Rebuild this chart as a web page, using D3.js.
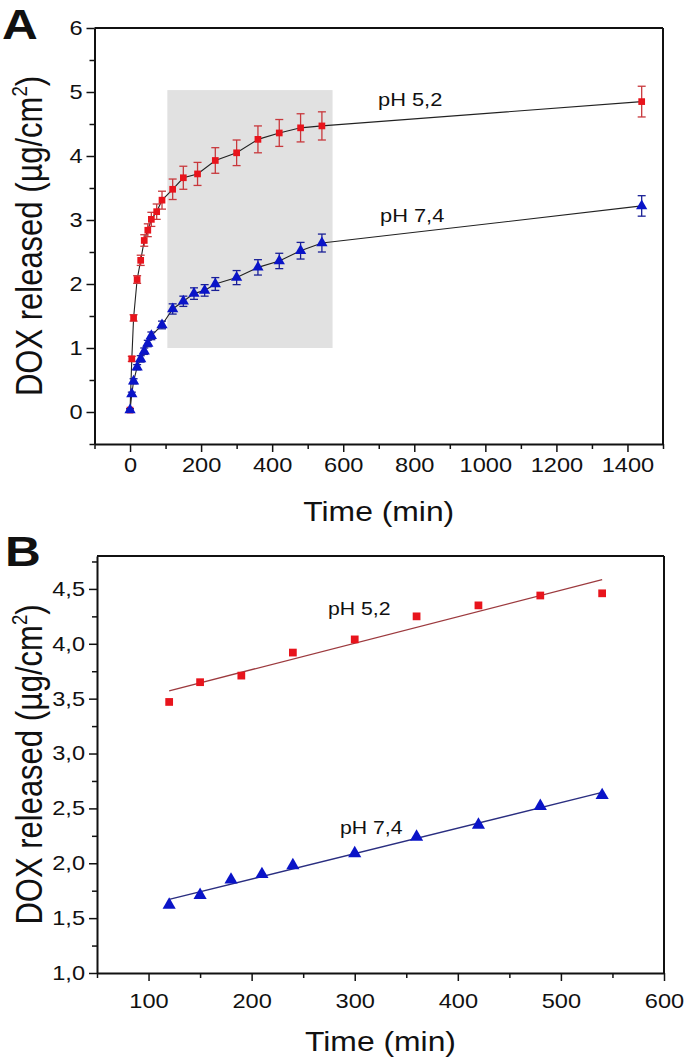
<!DOCTYPE html>
<html>
<head>
<meta charset="utf-8">
<script src="https://cdn.jsdelivr.net/npm/d3@7/dist/d3.min.js"></script>
<style>
  html, body { margin: 0; padding: 0; background: #fff; }
  svg { display: block; }
  text { font-family: "Liberation Sans", Arial, sans-serif; fill: #111; }
</style>
</head>
<body>
<svg id="chart" width="685" height="1061"></svg>
<script>
// ---------------- DATA ----------------
// Panel A: cumulative DOX release (µg/cm²) vs time (min)
const timeRedA  = [0, 5, 10, 20, 30, 40, 50, 60, 75, 90, 120, 150, 190, 240, 300, 360, 420, 480, 540, 1440];
const valRedA   = [0.03, 0.83, 1.47, 2.07, 2.37, 2.68, 2.84, 3.01, 3.13, 3.31, 3.48, 3.66, 3.72, 3.93, 4.05, 4.26, 4.36, 4.44, 4.47, 4.85];
const errRedA   = [0.02, 0.04, 0.05, 0.06, 0.08, 0.09, 0.10, 0.11, 0.12, 0.14, 0.16, 0.18, 0.18, 0.20, 0.20, 0.21, 0.21, 0.22, 0.22, 0.24];

const timeBlueA = [0, 5, 10, 20, 30, 40, 50, 60, 90, 120, 150, 180, 210, 240, 300, 360, 420, 480, 540, 1440];
const valBlueA  = [0.03, 0.28, 0.48, 0.70, 0.83, 0.95, 1.07, 1.19, 1.36, 1.61, 1.73, 1.85, 1.90, 2.00, 2.10, 2.26, 2.36, 2.52, 2.64, 3.22];
const errBlueA  = [0.02, 0.03, 0.04, 0.04, 0.05, 0.05, 0.05, 0.06, 0.06, 0.08, 0.08, 0.09, 0.09, 0.10, 0.11, 0.12, 0.12, 0.13, 0.14, 0.16];

const shadeTimeA = [105, 570];
const shadeValA  = [1.0, 5.03];

const xTicksA = [0, 200, 400, 600, 800, 1000, 1200, 1400];
const yTicksA = [0, 1, 2, 3, 4, 5, 6];

// Panel B: linear region 120-540 min
const timeRedB  = [120, 150, 190, 240, 300, 360, 420, 480, 540];
const valRedB   = [3.47, 3.65, 3.71, 3.92, 4.04, 4.25, 4.35, 4.44, 4.46];
const timeBlueB = [120, 150, 180, 210, 240, 300, 360, 420, 480, 540];
const valBlueB  = [1.62, 1.71, 1.85, 1.90, 1.98, 2.09, 2.24, 2.35, 2.52, 2.62];

const xTicksB = [100, 200, 300, 400, 500, 600];
const yTicksB = [1.0, 1.5, 2.0, 2.5, 3.0, 3.5, 4.0, 4.5];

const labelsA = ["pH 5,2", "pH 7,4"];
const labelsB = ["pH 5,2", "pH 7,4"];

// ---------------- STYLE ----------------
const RED = "#e8141c", RED_ERR = "#c8383c", RED_FIT = "#9c3a3e";
const BLUE = "#0a14c8", BLUE_ERR = "#1a2096", BLUE_FIT = "#2a2e80";
const SX = 1.18; // horizontal stretch of the original bitmap text

const svg = d3.select("#chart");

function stretchedText(parent, x, y, str, size, opts = {}) {
  const t = parent.append("text")
    .attr("transform", `translate(${x},${y}) scale(${SX},1)` + (opts.rotate ? ` rotate(${opts.rotate})` : ""))
    .attr("font-size", size)
    .attr("text-anchor", opts.anchor || "start")
    .attr("font-weight", opts.weight || "normal");
  t.text(str);
  return t;
}

function yTitle(parent, x, y, size) {
  const t = parent.append("text")
    .attr("transform", `translate(${x},${y}) scale(${SX},1) rotate(-90)`)
    .attr("font-size", size)
    .attr("text-anchor", "middle");
  t.append("tspan").text("DOX released (");
  t.append("tspan").text("\u03bc").attr("font-family", "'DejaVu Sans', sans-serif").attr("font-size", size * 0.95);
  t.append("tspan").text("g/cm");
  t.append("tspan").text("2").attr("font-size", size * 0.6).attr("dy", -size * 0.42);
  t.append("tspan").text(")").attr("dy", size * 0.42);
}

function styleAxis(g, size) {
  g.select(".domain").attr("stroke", "#111").attr("stroke-width", 2);
  g.selectAll(".tick line").attr("stroke", "#111").attr("stroke-width", 1.5);
  g.selectAll(".tick text").attr("font-size", size).attr("fill", "#111")
    .attr("font-family", "'Liberation Sans', Arial, sans-serif");
}

// ================= PANEL A =================
const xA = d3.scaleLinear().domain([-100, 1500]).range([94.5, 663]);
const yA = d3.scaleLinear().domain([-0.5, 6]).range([444, 28]);
const gA = svg.append("g");

// shaded region
gA.append("rect")
  .attr("x", xA(shadeTimeA[0])).attr("y", yA(shadeValA[1]))
  .attr("width", xA(shadeTimeA[1]) - xA(shadeTimeA[0]))
  .attr("height", yA(shadeValA[0]) - yA(shadeValA[1]))
  .attr("fill", "#e1e1e1");

// frame top/right
gA.append("line").attr("x1", xA(-100)).attr("x2", xA(1500)).attr("y1", yA(6)).attr("y2", yA(6)).attr("stroke", "#111").attr("stroke-width", 2);
gA.append("line").attr("x1", xA(1500)).attr("x2", xA(1500)).attr("y1", yA(6)).attr("y2", yA(-0.5)).attr("stroke", "#111").attr("stroke-width", 2);

// minor ticks
const xMinorA = d3.range(-100, 1501, 100).filter(v => v % 200 !== 0);
const yMinorA = d3.range(-0.5, 6, 0.5).filter(v => v % 1 !== 0);
gA.append("g").attr("transform", `translate(0,${yA(-0.5)})`)
  .call(d3.axisBottom(xA).tickValues(xMinorA).tickSize(5).tickFormat(""))
  .call(g => { g.select(".domain").remove(); g.selectAll("line").attr("stroke", "#111").attr("stroke-width", 1.5); });
gA.append("g").attr("transform", `translate(${xA(-100)},0)`)
  .call(d3.axisLeft(yA).tickValues(yMinorA).tickSize(5).tickFormat(""))
  .call(g => { g.select(".domain").remove(); g.selectAll("line").attr("stroke", "#111").attr("stroke-width", 1.5); });

// major axes
const axBA = gA.append("g").attr("transform", `translate(0,${yA(-0.5)})`)
  .call(d3.axisBottom(xA).tickValues(xTicksA).tickSize(8).tickSizeOuter(0).tickPadding(6).tickFormat(d3.format("d")));
styleAxis(axBA, 20);
axBA.selectAll(".tick text").attr("transform", `scale(${SX},1)`);
const axLA = gA.append("g").attr("transform", `translate(${xA(-100)},0)`)
  .call(d3.axisLeft(yA).tickValues(yTicksA).tickSize(8).tickSizeOuter(0).tickPadding(4).tickFormat(d3.format("d")));
styleAxis(axLA, 20);
axLA.selectAll(".tick text").attr("x", -12 / SX).attr("transform", `scale(${SX},1)`);

// series
function seriesA(times, vals, errs, color, errColor, shape) {
  const pts = times.map((t, i) => ({ t, v: vals[i], e: errs[i] }));
  const line = d3.line().x(d => xA(d.t)).y(d => yA(d.v));
  gA.append("path").datum(pts).attr("d", line).attr("fill", "none").attr("stroke", "#222").attr("stroke-width", 1.1);
  const eb = gA.append("g").attr("stroke", errColor).attr("stroke-width", 1.3);
  pts.forEach(d => {
    eb.append("line").attr("x1", xA(d.t)).attr("x2", xA(d.t)).attr("y1", yA(d.v - d.e)).attr("y2", yA(d.v + d.e));
    [d.v - d.e, d.v + d.e].forEach(v =>
      eb.append("line").attr("x1", xA(d.t) - 4).attr("x2", xA(d.t) + 4).attr("y1", yA(v)).attr("y2", yA(v)));
  });
  gA.append("g").selectAll("path").data(pts).join("path")
    .attr("transform", d => `translate(${xA(d.t)},${yA(d.v)})`)
    .attr("d", d3.symbol().type(shape).size(shape === d3.symbolSquare ? 45 : 55))
    .attr("fill", color);
}
seriesA(timeRedA, valRedA, errRedA, RED, RED_ERR, d3.symbolSquare);
seriesA(timeBlueA, valBlueA, errBlueA, BLUE, BLUE_ERR, d3.symbolTriangle);

stretchedText(gA, 378, 106, labelsA[0], 18.5);
stretchedText(gA, 380, 222, labelsA[1], 18.5);

stretchedText(svg, (xA(-100) + xA(1500)) / 2, 521, "Time (min)", 27, { anchor: "middle" });
yTitle(svg, 42, (yA(-0.5) + yA(6)) / 2, 31);
stretchedText(svg, 2, 39, "A", 42, { weight: "bold" });

// ================= PANEL B =================
const xB = d3.scaleLinear().domain([50, 600]).range([97, 664]);
const yB = d3.scaleLinear().domain([1.0, 4.8]).range([973, 556]);
const gB = svg.append("g");

gB.append("line").attr("x1", xB(50)).attr("x2", xB(600)).attr("y1", yB(4.8)).attr("y2", yB(4.8)).attr("stroke", "#111").attr("stroke-width", 2);
gB.append("line").attr("x1", xB(600)).attr("x2", xB(600)).attr("y1", yB(4.8)).attr("y2", yB(1.0)).attr("stroke", "#111").attr("stroke-width", 2);

const xMinorB = d3.range(50, 601, 50).filter(v => v % 100 !== 0);
const yMinorB = d3.range(1.25, 4.8, 0.5);
gB.append("g").attr("transform", `translate(0,${yB(1.0)})`)
  .call(d3.axisBottom(xB).tickValues(xMinorB).tickSize(5).tickFormat(""))
  .call(g => { g.select(".domain").remove(); g.selectAll("line").attr("stroke", "#111").attr("stroke-width", 1.5); });
gB.append("g").attr("transform", `translate(${xB(50)},0)`)
  .call(d3.axisLeft(yB).tickValues(yMinorB).tickSize(5).tickFormat(""))
  .call(g => { g.select(".domain").remove(); g.selectAll("line").attr("stroke", "#111").attr("stroke-width", 1.5); });

const axBB = gB.append("g").attr("transform", `translate(0,${yB(1.0)})`)
  .call(d3.axisBottom(xB).tickValues(xTicksB).tickSize(8).tickSizeOuter(0).tickPadding(13).tickFormat(d3.format("d")));
styleAxis(axBB, 20);
axBB.selectAll(".tick text").attr("transform", `scale(${SX},1)`);
const axLB = gB.append("g").attr("transform", `translate(${xB(50)},0)`)
  .call(d3.axisLeft(yB).tickValues(yTicksB).tickSize(8).tickSizeOuter(0).tickPadding(4)
    .tickFormat(d => d3.format(".1f")(d).replace(".", ",")));
styleAxis(axLB, 20);
axLB.selectAll(".tick text").attr("x", -12 / SX).attr("transform", `scale(${SX},1)`);

function linreg(xs, ys) {
  const n = xs.length, mx = d3.mean(xs), my = d3.mean(ys);
  let sxy = 0, sxx = 0;
  for (let i = 0; i < n; i++) { sxy += (xs[i] - mx) * (ys[i] - my); sxx += (xs[i] - mx) ** 2; }
  const b = sxy / sxx;
  return x => my + b * (x - mx);
}

function seriesB(times, vals, color, fitColor, shape, size) {
  const f = linreg(times, vals);
  const ends = [d3.min(times), d3.max(times)];
  gB.append("line")
    .attr("x1", xB(ends[0])).attr("y1", yB(f(ends[0])))
    .attr("x2", xB(ends[1])).attr("y2", yB(f(ends[1])))
    .attr("stroke", fitColor).attr("stroke-width", 1.3);
  gB.append("g").selectAll("path").data(times.map((t, i) => ({ t, v: vals[i] }))).join("path")
    .attr("transform", d => `translate(${xB(d.t)},${yB(d.v)})`)
    .attr("d", d3.symbol().type(shape).size(size))
    .attr("fill", color);
}
seriesB(timeRedB, valRedB, RED, RED_FIT, d3.symbolSquare, 60);
seriesB(timeBlueB, valBlueB, BLUE, BLUE_FIT, d3.symbolTriangle, 75);

stretchedText(gB, 328, 615, labelsB[0], 18);
stretchedText(gB, 340, 834, labelsB[1], 18);

stretchedText(svg, (xB(50) + xB(600)) / 2, 1051, "Time (min)", 27, { anchor: "middle" });
yTitle(svg, 42, (yB(1.0) + yB(4.8)) / 2, 31);
stretchedText(svg, 5, 566, "B", 42, { weight: "bold" });
</script>
</body>
</html>
